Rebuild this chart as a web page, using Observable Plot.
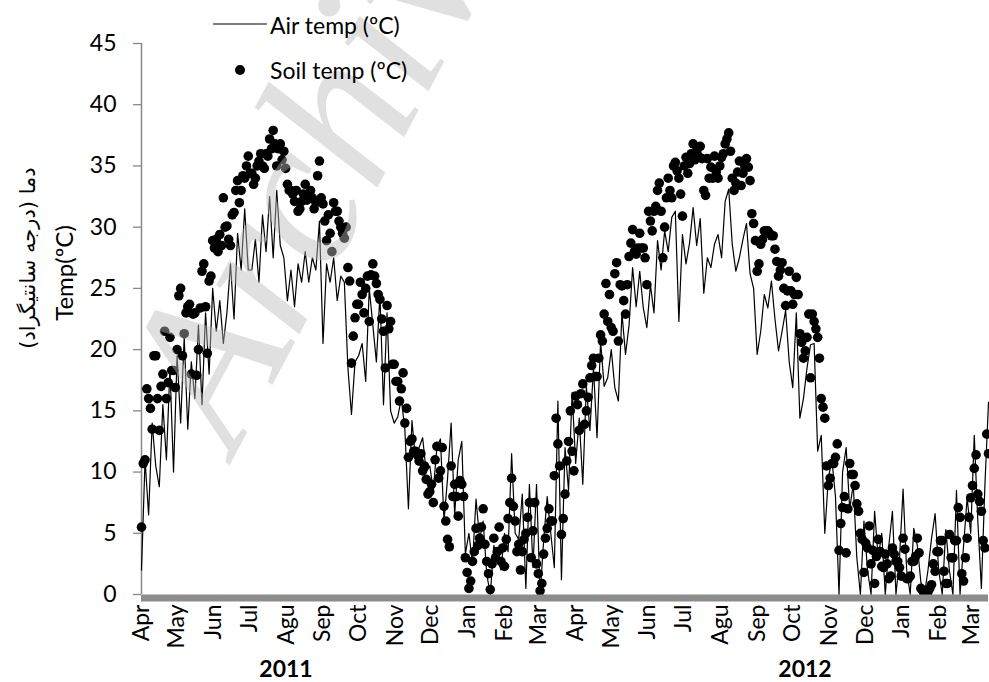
<!DOCTYPE html>
<html>
<head>
<meta charset="utf-8">
<script src="https://cdn.jsdelivr.net/npm/d3@7"></script>
<script src="https://cdn.jsdelivr.net/npm/@observablehq/plot@0.6"></script>
<style>
  body { margin: 0; background: #fff; }
  #wrap { position: relative; width: 989px; height: 682px; overflow: hidden; font-family: Lato, "Liberation Sans", sans-serif; color: #000; }
  #wrap svg.plot { position: absolute; left: 0; top: 0; }
  .abs { position: absolute; white-space: nowrap; line-height: 1; }
  .rot { transform: translate(-50%, -50%) rotate(-90deg); }
  .ctr { transform: translate(-50%, -50%); }
  .lft { transform: translate(0, -50%); }
</style>
</head>
<body>
<div id="wrap"></div>
<script>
// ---- data (3-day sampling starting 1 Apr 2011) ----
const startDate = "2011-04-01";
const stepDays = 3;

const airTemp = [
  2, 11, 6.5, 14, 10.5, 8.8, 15.5, 11, 18.5, 10, 19.5,
  14, 21, 13.5, 19, 16, 22, 15.5, 23, 18, 25,
  21.5, 24, 20.5, 23, 27, 22.5, 29.5, 26.5, 31.5, 26.5,
  26.5, 29, 25.5, 31, 28, 32.5, 27.5, 33, 28.5, 27.5,
  24, 26.5, 23.5, 27, 25.5, 28, 25.5, 27.5, 26.5, 30.5,
  20.5, 27, 25.5, 27.5, 24, 26, 25.5, 18.5, 14.7, 19,
  19.5, 20.5, 17.4, 25, 22, 19, 24.5, 15.5, 23, 15,
  14, 14.5, 16, 13.5, 7, 14.2, 11, 12, 12.8, 10,
  10.5, 8.5, 12, 12.7, 6, 9.5, 14, 6.5, 11, 12.5,
  3.3, 5, 2.5, 7.8, 4.5, 6, 1.7, 0, 4, 3,
  2, 5, 3.5, 11.5, 5, 4.5, 8.2, 0.5, 9, 2.2,
  9, 0, 4.4, 8, 5, 2.2, 15.8, 1.2, 12, 8.5,
  16.5, 10.7, 14.4, 9, 17, 13.4, 18.5, 12.8, 20.7, 17,
  17.7, 20, 16.9, 15.8, 23, 19.6, 22, 26.7, 23.5, 26.4,
  23.4, 21.8, 25.3, 23, 28.9, 26.5, 29.7, 28, 30.8, 31.3,
  22.3, 29.4, 27, 28.7, 31.6, 28.5, 30.7, 24.6, 27.5, 26.7,
  28.6, 29.4, 27.5, 32.1, 33.1, 28.6, 26.4, 27.5, 29, 30.3,
  26.2, 25, 19.6, 21.5, 24.5, 23.4, 25.6, 22.5, 19.9, 21.5,
  23.2, 19, 16.9, 23, 14.4, 16, 18.5, 20.4, 20.5, 11.7,
  13, 5, 9.5, 11, 8, 0, 10, 12, 7, 9,
  3, 0, 6, 2, 0, 6.8, 3, 5, 0, 4,
  6.8, 0, 3, 8.6, 2, 0, 5.4, 4, 1, 0,
  2, 4.6, 6.6, 2, 0, 5.3, 2, 0, 8.5, 0,
  4, 7.9, 5, 13, 6, 0.5, 9, 15.7
];

// soil temperature, readings on the same 3-day grid
const soilTemp = [
  5.5, 11, 16, 13.5, 19.5, 13.4, 18, 16, 21, 18.3, 20,
  25, 21.3, 23.5, 18, 23, 20, 26.4, 23.5, 25.6, 28.9,
  29, 29.4, 32.4, 30.1, 28.5, 31.2, 33.8, 33, 34, 35.8,
  34.4, 34, 35.4, 35, 36, 37.2, 37.9, 35, 36.8, 36.2,
  33.5, 33, 32.1, 31.3, 32.1, 33.5, 32.7, 32.4, 32, 35.4,
  31.9, 28.9, 29.5, 32, 31.3, 30, 29.1, 26.7, 18.9, 22.6,
  23.7, 24.5, 25, 22.3, 27, 25.4, 24.1, 21.5, 23.6, 22.3,
  18.8, 17.4, 16.8, 14, 11.2, 12.7, 11.7, 10.9, 10.1, 9.4,
  8.4, 7.5, 12.1, 10.1, 7.2, 4.5, 10.5, 9, 6.4, 9,
  3, 0.5, 2.7, 5.4, 4.6, 7, 2.7, 0.4, 4.6, 3.5,
  2.7, 2.3, 6.2, 9.5, 6, 4.1, 3.5, 5, 7.5, 5.2,
  2.5, 0.3, 3.3, 5.4, 6, 9.7, 12.3, 4.9, 8.2, 12.5,
  11.7, 16.2, 13.4, 17.2, 15, 17.7, 19.3, 17.8, 21.2, 22.9,
  22.3, 21.8, 26.2, 20.7, 25.2, 22.9, 27.6, 29.8, 27.8, 29.5,
  28.3, 25.3, 30.5, 31.3, 33, 31.3, 30, 34, 32.4, 35.3,
  34, 30.9, 35.7, 35.2, 36.8, 36.2, 36.6, 33, 35.6, 34.9,
  35.8, 34, 35.7, 36.8, 37.7, 34, 33.6, 35.4, 34.4, 35.6,
  33.8, 30.3, 26.4, 28.6, 29.7, 29.7, 29.3, 28.2, 26, 27.1,
  23.6, 26.4, 23.7, 25.9, 21.3, 19.3, 21, 17.7, 22.3, 21,
  16, 14.4, 8.9, 10.7, 11.2, 3.6, 7.1, 3.4, 10.7, 9.8,
  7.4, 5, 1.8, 3.8, 2.5, 0.9, 4.5, 2.3, 3.3, 1.3,
  3.8, 2.7, 2.2, 4.6, 1.3, 1.5, 2.7, 4.6, 0.5, 0.3,
  0.2, 0.8, 1.9, 3.5, 4.4, 0.9, 4.9, 3, 4.4, 6.3,
  1.1, 4.6, 7.9, 10.3, 8.2, 6.8, 3.8, 11.5
];

// soil temperature, readings half-way between the grid days (+1.5 d)
const soilTempMid = [
  10.7, 16.8, 15.2, 19.5, 16, 17, 21.5, 17.3, 18.3, 16.9, 24.4,
  19.5, 23, 23.7, 22.9, 17.9, 23.4, 27, 19.7, 26, 28.3,
  28, 28.5, 30, 29, 31, 33, 32, 34.2, 35, 34.4,
  33.5, 35, 36, 34.8, 35.8, 36.4, 36.8, 36.4, 35.5, 34.8,
  33, 32.7, 33, 31.5, 32.7, 32.2, 33, 31.5, 34.2, 32.4,
  30.5, 31, 28, 31.3, 30.5, 29.5, 30, 25.6, 21.1, 23.7,
  25.5, 23, 26, 26.1, 26, 24.5, 22.5, 18.5, 21.7, 18.8,
  17.4, 15.8, 18.1, 15.2, 12.5, 11.7, 11.4, 11.5, 10.5, 8.2,
  9, 11, 9.5, 12, 6, 3.9, 8, 8, 9.3, 8,
  1.8, 1.1, 3.5, 4, 5.5, 4.1, 1.7, 2.5, 3, 5.5,
  3.8, 4.5, 7.5, 7.2, 3.5, 2, 4.5, 6.3, 3, 7.5,
  1.7, 0.9, 4.6, 7, 6, 14.4, 10.5, 6.2, 10.9, 15,
  10.1, 15.5, 16.4, 13.9, 16.1, 18.7, 17.8, 19.3, 20.7, 25.4,
  24.5, 21.5, 27.1, 25.3, 24, 25.3, 28.7, 28, 28.3, 28.3,
  27.5, 31.3, 29.7, 31.7, 33.6, 27.5, 32.4, 33, 35, 34.6,
  32.7, 35, 34.4, 36, 35.5, 35.8, 35.6, 32.6, 34, 34,
  34.5, 35, 36, 37.2, 36.2, 33, 34.5, 33.4, 35, 34.9,
  31.1, 28.9, 27, 29, 29.7, 29.5, 29.3, 27.2, 26.5, 25,
  24.8, 24.8, 24.5, 24.5, 20.6, 19.9, 22.9, 22.9, 21.7, 19.3,
  15.3, 10.5, 9.5, 10.7, 12.3, 5.8, 8, 7, 9.8, 8.9,
  6.8, 4.5, 4.2, 5.6, 3.6, 3.1, 3.5, 2.2, 2.5, 1.5,
  3.3, 2.7, 1.5, 3.7, 1.3, 2.7, 3.1, 3.4, 0.3, 0.1,
  0.5, 2.5, 3.5, 4.4, 1.9, 0.9, 3, 4.4, 7.1, 1.7,
  3, 6.3, 8.9, 11.4, 7.6, 4.4, 13.1
];

const monthLabels = ["Apr","May","Jun","Jul","Agu","Sep","Oct","Nov","Dec","Jan","Feb","Mar",
                     "Apr","May","Jun","Jul","Agu","Sep","Oct","Nov","Dec","Jan","Feb","Mar"];
const yearLabels = ["2011", "2012"];
const yTicks = [0, 5, 10, 15, 20, 25, 30, 35, 40, 45];
const seriesNames = ["Air temp (ºC)", "Soil temp (ºC)"];
const yTitle = "Temp(ºC)";
const yTitleFa = "دما (درجه سانتیگراد)";
const watermark = "Archive of SID";

// ---- build tables ----
const start = new Date(startDate + "T00:00:00Z");
const rows = airTemp.map((v, i) => ({ date: d3.utcDay.offset(start, i * stepDays), air: v }));
const soilRows = soilTemp.map((v, i) => ({ date: d3.utcDay.offset(start, i * stepDays), soil: v }))
  .concat(soilTempMid.map((v, i) => ({ date: new Date(+d3.utcDay.offset(start, i * stepDays) + 36 * 3600 * 1000), soil: v })));
const end = rows[rows.length - 1].date;
const monthTicks = monthLabels.map((_, i) => d3.utcMonth.offset(start, i));
const labelOf = new Map(monthTicks.map((d, i) => [+d, monthLabels[i]]));

const chart = Plot.plot({
  width: 989,
  height: 682,
  marginLeft: 141,
  marginRight: 1,
  marginTop: 43,
  marginBottom: 88,
  style: { fontFamily: "Lato, 'Liberation Sans', sans-serif", background: "transparent", color: "#000" },
  x: { type: "utc", domain: [start, end], axis: null },
  y: { domain: [0, 45], axis: null },
  marks: [
    Plot.axisY({ ticks: yTicks, tickSize: 8, tickPadding: 17, stroke: "#888", strokeWidth: 1.3, fontSize: 23, label: null, tickFormat: d => String(d) }),
    Plot.ruleX([start], { stroke: "#888", strokeWidth: 1.5 }),
    Plot.line(rows, { x: "date", y: "air", stroke: "#000", strokeWidth: 1.2 }),
    Plot.dot(soilRows, { x: "date", y: "soil", r: 4.8, fill: "#000", stroke: "none" }),
    Plot.axisX({ ticks: monthTicks, tickFormat: d => labelOf.get(+d), tickRotate: -90, tickSize: 0, tickPadding: 10, fontSize: 23, label: null }),
    Plot.ruleY([0], { stroke: "#8c8c8c", strokeWidth: 7, dy: 3.5 })
  ]
});
chart.classList.add("plot");
const wrap = document.getElementById("wrap");
wrap.appendChild(chart);

function addDiv(text, cls, left, top, style) {
  const el = document.createElement("div");
  el.className = "abs " + cls;
  el.textContent = text;
  el.style.left = left + "px";
  el.style.top = top + "px";
  Object.assign(el.style, style || {});
  wrap.appendChild(el);
  return el;
}

// axis titles
addDiv(yTitle, "rot", 64, 273, { fontSize: "24px" });
addDiv(yTitleFa, "rot", 28, 258, { fontSize: "21px", fontFamily: "'DejaVu Sans', sans-serif", direction: "rtl" });

// year labels
addDiv(yearLabels[0], "ctr", 286, 668, { fontSize: "23px", fontWeight: "bold" });
addDiv(yearLabels[1], "ctr", 805, 668, { fontSize: "23px", fontWeight: "bold" });

// legend + watermark overlay
const ns = "http://www.w3.org/2000/svg";
const ov = document.createElementNS(ns, "svg");
ov.setAttribute("width", 989); ov.setAttribute("height", 682);
ov.style.position = "absolute"; ov.style.left = "0"; ov.style.top = "0"; ov.style.pointerEvents = "none";
const ln = document.createElementNS(ns, "line");
ln.setAttribute("x1", 213); ln.setAttribute("x2", 267); ln.setAttribute("y1", 24); ln.setAttribute("y2", 24);
ln.setAttribute("stroke", "#000"); ln.setAttribute("stroke-width", 1.2);
ov.appendChild(ln);
const dt = document.createElementNS(ns, "circle");
dt.setAttribute("cx", 240); dt.setAttribute("cy", 70); dt.setAttribute("r", 5);
ov.appendChild(dt);
const wm = document.createElementNS(ns, "text");
wm.setAttribute("transform", "translate(235,455) rotate(-62)");
wm.setAttribute("font-family", "'Liberation Serif', serif");
wm.setAttribute("font-style", "italic");
wm.setAttribute("font-size", 210);
wm.setAttribute("fill", "#bbb");
wm.setAttribute("fill-opacity", 0.45);
wm.textContent = watermark;
ov.appendChild(wm);
wrap.appendChild(ov);

addDiv(seriesNames[0], "lft", 270, 25, { fontSize: "23px" });
addDiv(seriesNames[1], "lft", 270, 70, { fontSize: "23px" });
</script>
</body>
</html>
